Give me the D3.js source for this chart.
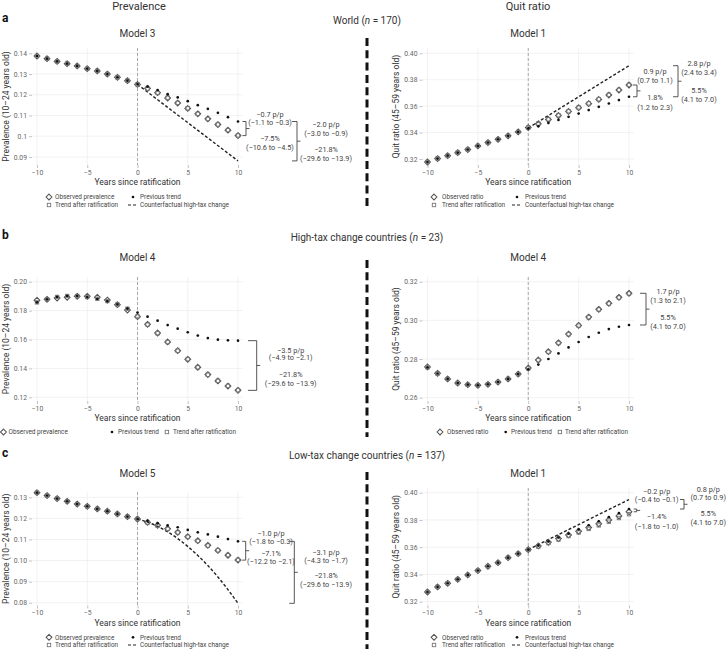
<!DOCTYPE html>
<html><head><meta charset="utf-8">
<script src="https://cdn.jsdelivr.net/npm/d3@7"></script>
<style>body{margin:0;background:#fff}svg{display:block}text{font-family:Roboto,"Noto Sans",sans-serif}</style>
</head><body><svg id="c" width="727" height="649"></svg>
<script>
// ---------- DATA ----------
const years = [-10,-9,-8,-7,-6,-5,-4,-3,-2,-1,0,1,2,3,4,5,6,7,8,9,10];
const xTicks = [-10,-5,0,5,10];
const xTickLabels = ["−10","−5","0","5","10"];

// a: World, prevalence (Model 3)
const aPrevObs   = [0.1387,0.1374,0.1361,0.1350,0.1339,0.1326,0.1315,0.1300,0.1284,0.1268,0.1250,0.1231,0.1210,0.1184,0.1160,0.1134,0.1108,0.1084,0.1056,0.1029,0.1003];
const aPrevTrend = [0.1387,0.1374,0.1361,0.1350,0.1339,0.1326,0.1315,0.1300,0.1284,0.1268,0.1252,0.1239,0.1223,0.1203,0.1187,0.1169,0.1150,0.1132,0.1113,0.1092,0.1071];
const aPrevAfter = [0.1387,0.1374,0.1361,0.1350,0.1339,0.1326,0.1315,0.1300,0.1284,0.1268,0.1250,0.1229,0.1209,0.1186,0.1161,0.1135,0.1108,0.1083,0.1057,0.1030,0.1004];
const aPrevCfYears = [0,10];
const aPrevCf    = [0.1250,0.0881];
const aPrevTicks = [0.09,0.10,0.11,0.12,0.13,0.14];
const aPrevTickLabels = ["0.09","0.1","0.11","0.12","0.13","0.14"];

// a: World, quit ratio (Model 1)
const aQuitObs   = [0.3177,0.3203,0.3225,0.3248,0.3271,0.3299,0.3324,0.3349,0.3375,0.3405,0.3438,0.3466,0.3499,0.3529,0.3560,0.3588,0.3619,0.3651,0.3684,0.3722,0.3760];
const aQuitTrend = [0.3177,0.3203,0.3225,0.3248,0.3271,0.3299,0.3324,0.3349,0.3375,0.3405,0.3432,0.3447,0.3473,0.3496,0.3519,0.3544,0.3570,0.3595,0.3620,0.3646,0.3671];
const aQuitAfter = [0.3177,0.3203,0.3225,0.3248,0.3271,0.3299,0.3324,0.3349,0.3375,0.3405,0.3436,0.3468,0.3500,0.3531,0.3561,0.3590,0.3621,0.3652,0.3686,0.3723,0.3761];
const aQuitCfYears = [0,10];
const aQuitCf    = [0.3435,0.3906];
const aQuitTicks = [0.32,0.34,0.36,0.38,0.40];
const aQuitTickLabels = ["0.32","0.34","0.36","0.38","0.40"];

// b: High-tax change, prevalence (Model 4)
const bPrevObs   = [0.1871,0.1878,0.1887,0.1892,0.1899,0.1899,0.1892,0.1873,0.1841,0.1804,0.1758,0.1705,0.1645,0.1583,0.1523,0.1463,0.1408,0.1357,0.1313,0.1278,0.1248];
const bPrevTrend = [0.1857,0.1878,0.1894,0.1901,0.1901,0.1894,0.1882,0.1866,0.1843,0.1813,0.1786,0.1758,0.1730,0.1700,0.1675,0.1650,0.1627,0.1610,0.1599,0.1594,0.1592];
const bPrevAfter = [0.1857,0.1878,0.1894,0.1901,0.1901,0.1894,0.1882,0.1866,0.1843,0.1813,0.1760,0.1703,0.1643,0.1582,0.1522,0.1464,0.1407,0.1356,0.1314,0.1279,0.1250];
const bPrevTicks = [0.12,0.14,0.16,0.18,0.20];
const bPrevTickLabels = ["0.12","0.14","0.16","0.18","0.20"];

// b: High-tax change, quit ratio (Model 4)
const bQuitObs   = [0.2759,0.2726,0.2697,0.2676,0.2667,0.2664,0.2669,0.2681,0.2697,0.2722,0.2753,0.2795,0.2838,0.2884,0.2929,0.2974,0.3017,0.3057,0.3088,0.3119,0.3140];
const bQuitTrend = [0.2757,0.2725,0.2697,0.2676,0.2667,0.2664,0.2669,0.2681,0.2697,0.2722,0.2747,0.2771,0.2800,0.2829,0.2860,0.2888,0.2914,0.2936,0.2955,0.2967,0.2976];
const bQuitAfter = [0.2757,0.2725,0.2697,0.2676,0.2667,0.2664,0.2669,0.2681,0.2697,0.2722,0.2752,0.2794,0.2837,0.2883,0.2928,0.2973,0.3016,0.3056,0.3087,0.3118,0.3139];
const bQuitTicks = [0.26,0.28,0.30,0.32];
const bQuitTickLabels = ["0.26","0.28","0.30","0.32"];

// c: Low-tax change, prevalence (Model 5)
const cPrevObs   = [0.1322,0.1308,0.1294,0.1281,0.1268,0.1257,0.1245,0.1234,0.1221,0.1208,0.1197,0.1181,0.1167,0.1151,0.1134,0.1113,0.1094,0.1072,0.1048,0.1025,0.1002];
const cPrevTrend = [0.1322,0.1308,0.1294,0.1281,0.1268,0.1257,0.1245,0.1234,0.1221,0.1208,0.1197,0.1188,0.1177,0.1167,0.1158,0.1145,0.1134,0.1124,0.1113,0.1102,0.1091];
const cPrevAfter = [0.1322,0.1308,0.1294,0.1281,0.1268,0.1257,0.1245,0.1234,0.1221,0.1208,0.1197,0.1180,0.1165,0.1150,0.1133,0.1113,0.1093,0.1071,0.1049,0.1026,0.1003];
const cPrevCfYears = [0,1,2,3,4,5,6,7,8,9,10];
const cPrevCf    = [0.1197,0.1182,0.1162,0.1136,0.1104,0.1067,0.1024,0.0976,0.0922,0.0862,0.0797];
const cPrevTicks = [0.08,0.09,0.10,0.11,0.12,0.13];
const cPrevTickLabels = ["0.08","0.09","0.10","0.11","0.12","0.13"];

// c: Low-tax change, quit ratio (Model 1)
const cQuitObs   = [0.3271,0.3308,0.3335,0.3364,0.3396,0.3428,0.3460,0.3486,0.3523,0.3552,0.3582,0.3609,0.3636,0.3663,0.3690,0.3717,0.3745,0.3772,0.3800,0.3829,0.3860];
const cQuitTrend = [0.3271,0.3308,0.3335,0.3364,0.3396,0.3428,0.3460,0.3486,0.3523,0.3552,0.3582,0.3612,0.3641,0.3671,0.3700,0.3730,0.3761,0.3790,0.3820,0.3850,0.3880];
const cQuitAfter = [0.3271,0.3308,0.3335,0.3364,0.3396,0.3428,0.3460,0.3486,0.3523,0.3552,0.3580,0.3604,0.3630,0.3656,0.3682,0.3708,0.3734,0.3760,0.3787,0.3814,0.3842];
const cQuitCfYears = [0,10];
const cQuitCf    = [0.3582,0.3950];
const cQuitTicks = [0.32,0.34,0.36,0.38,0.40];
const cQuitTickLabels = ["0.32","0.34","0.36","0.38","0.40"];

// annotation texts
const aPrevAnn1 = ["−0.7 p/p","(−1.1 to −0.3)","−7.5%","(−10.6 to −4.5)"];
const aPrevAnn2 = ["−2.0 p/p","(−3.0 to −0.9)","−21.8%","(−29.6 to −13.9)"];
const aQuitAnn1 = ["0.9 p/p","(0.7 to 1.1)","1.8%","(1.2 to 2.3)"];
const aQuitAnn2 = ["2.8 p/p","(2.4 to 3.4)","5.5%","(4.1 to 7.0)"];
const bPrevAnn1 = ["−3.5 p/p","(−4.9 to −2.1)","−21.8%","(−29.6 to −13.9)"];
const bQuitAnn1 = ["1.7 p/p","(1.3 to 2.1)","5.5%","(4.1 to 7.0)"];
const cPrevAnn1 = ["−1.0 p/p","(−1.8 to −0.3)","−7.1%","(−12.2 to −2.1)"];
const cPrevAnn2 = ["−3.1 p/p","(−4.3 to −1.7)","−21.8%","(−29.6 to −13.9)"];
const cQuitAnn1 = ["−0.2 p/p","(−0.4 to −0.1)","−1.4%","(−1.8 to −1.0)"];
const cQuitAnn2 = ["0.8 p/p","(0.7 to 0.9)","5.5%","(4.1 to 7.0)"];

const prevLabel = "Prevalence (10–24 years old)";
const quitLabel = "Quit ratio (45–59 years old)";
const xLabel = "Years since ratification";

// ---------- DRAW ----------
const svg = d3.select("#c");
const INK = "#333", GREY = "#666";

function txt(x, y, s, opt = {}) {
  return svg.append("text").attr("x", x).attr("y", y).attr("dy", "0.35em")
    .attr("text-anchor", opt.anchor || "middle")
    .attr("font-size", opt.size || 8).attr("fill", opt.fill || INK)
    .attr("font-weight", opt.weight || 400).text(s);
}
function sym(g, type, cx, cy) {
  if (type === "obs") g.append("path").attr("d", `M${cx},${cy-2.9}L${cx+2.9},${cy}L${cx},${cy+2.9}L${cx-2.9},${cy}Z`).attr("fill", "none").attr("stroke", "#555").attr("stroke-width", 1.05);
  else if (type === "after") g.append("rect").attr("x", cx-1.7).attr("y", cy-1.7).attr("width", 3.4).attr("height", 3.4).attr("fill", "none").attr("stroke", "#777").attr("stroke-width", 0.9);
  else if (type === "prev") g.append("circle").attr("cx", cx).attr("cy", cy).attr("r", 1.35).attr("fill", "#111");
  else if (type === "cf") g.append("line").attr("x1", cx-4).attr("x2", cx+4).attr("y1", cy).attr("y2", cy).attr("stroke", "#222").attr("stroke-width", 1.1).attr("stroke-dasharray", "3,2");
}

function panel(c) {
  const x = d3.scaleLinear().domain([-10, 10]).range([c.x0, c.x1]);
  const y = d3.scaleLinear().domain(c.yDom).range([c.yBot, c.yTop]);
  const L = c.x0 - 5, R = c.x1 + 5;
  const g = svg.append("g");
  // grid
  g.selectAll(null).data(c.yTicks).join("line")
    .attr("x1", L).attr("x2", R).attr("y1", d => y(d)).attr("y2", d => y(d))
    .attr("stroke", "#ededed").attr("stroke-width", 0.7);
  g.selectAll(null).data(xTicks).join("line")
    .attr("x1", d => x(d)).attr("x2", d => x(d)).attr("y1", c.yTop).attr("y2", c.yBot)
    .attr("stroke", "#ededed").attr("stroke-width", 0.7);
  // axes
  const ya = g.append("g").attr("transform", `translate(${L},0)`)
    .call(d3.axisLeft(y).tickValues(c.yTicks).tickFormat((d, i) => c.yTickLabels[i]).tickSize(3).tickPadding(2));
  const xa = g.append("g").attr("transform", `translate(0,${c.yBot})`)
    .call(d3.axisBottom(x).tickValues(xTicks).tickFormat((d, i) => xTickLabels[i]).tickSize(3).tickPadding(2));
  [ya, xa].forEach(a => {
    a.select(".domain").remove();
    a.selectAll(".tick line").attr("stroke", "#999").attr("stroke-width", 0.6);
    a.selectAll("text").attr("font-size", 6.8).attr("fill", GREY).attr("font-family", "Roboto");
  });
  // ratification line
  g.append("line").attr("x1", x(0)).attr("x2", x(0)).attr("y1", c.yTop).attr("y2", c.yBot)
    .attr("stroke", "#888").attr("stroke-width", 0.7).attr("stroke-dasharray", "3,2");
  // counterfactual
  if (c.cfY) {
    const pts = c.cfX.map((d, i) => [d, c.cfY[i]]);
    g.append("path").attr("d", d3.line().x(d => x(d[0])).y(d => y(d[1])).curve(d3.curveMonotoneX)(pts))
      .attr("fill", "none").attr("stroke", "#222").attr("stroke-width", 1.4).attr("stroke-dasharray", "3,2");
  }
  // markers
  years.forEach((yr, i) => {
    sym(g, "obs", x(yr), y(c.obs[i]));
    sym(g, "after", x(yr), y(c.after[i]));
    sym(g, "prev", x(yr), y(c.trend[i]));
  });
  // titles
  txt((c.x0 + c.x1) / 2, c.titleY, c.title, { size: 10 });
  txt((c.x0 + c.x1) / 2, c.yBot + 17.5, xLabel, { size: 8.5 });
  svg.append("text").attr("transform", `translate(${L - 26},${(c.yTop + c.yBot) / 2}) rotate(-90)`)
    .attr("dy", "0.35em").attr("text-anchor", "middle").attr("font-size", 8.5).attr("fill", INK).text(c.yLabel);
  // brackets
  const last = years.length - 1;
  const val = k => k === "cf" ? c.cfY[c.cfY.length - 1] : c[k][last];
  c.ann.forEach(a => {
    const y1 = y(val(a.from)), y2 = y(val(a.to));
    const vx = x(10) + a.dx, mid = (y1 + y2) / 2, top = Math.min(y1, y2);
    g.append("path").attr("d", `M${vx - a.tl},${y1}H${vx}V${y2}H${vx - a.tl}M${vx},${mid}H${vx + 3.5}`)
      .attr("fill", "none").attr("stroke", "#444").attr("stroke-width", 0.9);
    a.text.forEach((s, i) => txt(x(10) + a.tdx, top + a.off[i], s, { size: 7.3, fill: "#444" }));
  });
  // legend (items on one row never overlap: shift right if previous label is too long)
  const rowEnd = {};
  c.legend.forEach(it => {
    let sx = it.sx, tx = it.tx;
    const prevEnd = rowEnd[it.y];
    if (prevEnd !== undefined && sx - 4 < prevEnd + 4) { const s = prevEnd + 8 - sx; sx += s; tx += s; }
    sym(svg, it.type, sx, it.y);
    const t = txt(tx, it.y, it.label, { anchor: "start", size: 6.4, fill: "#444" });
    rowEnd[it.y] = tx + t.node().getComputedTextLength();
  });
}

function legend2(sx1, tx1, sx2, tx2, y1, y2, obsLabel) {
  return [
    { type: "obs", sx: sx1, tx: tx1, y: y1, label: obsLabel },
    { type: "prev", sx: sx2, tx: tx2, y: y1, label: "Previous trend" },
    { type: "after", sx: sx1, tx: tx1, y: y2, label: "Trend after ratification" },
    { type: "cf", sx: sx2 - 1, tx: tx2, y: y2, label: "Counterfactual high-tax change" }
  ];
}

// headers
txt(139, 6, "Prevalence", { size: 11 });
txt(528, 6, "Quit ratio", { size: 11 });
txt(2, 18, "a", { anchor: "start", size: 12, weight: 700, fill: "#111" });
txt(2, 235, "b", { anchor: "start", size: 12, weight: 700, fill: "#111" });
txt(2, 453, "c", { anchor: "start", size: 12, weight: 700, fill: "#111" });
function sectionTitle(yy, pre, post) {
  const t = svg.append("text").attr("x", 367).attr("y", yy).attr("dy", "0.35em").attr("text-anchor", "middle")
    .attr("font-size", 10).attr("fill", INK);
  t.append("tspan").text(pre);
  t.append("tspan").attr("font-style", "italic").text("n");
  t.append("tspan").text(post);
}
sectionTitle(20, "World (", " = 170)");
sectionTitle(237, "High-tax change countries (", " = 23)");
sectionTitle(455, "Low-tax change countries (", " = 137)");

// divider
[[38, 210], [260, 437], [472, 649]].forEach(s =>
  svg.append("line").attr("x1", 367).attr("x2", 367).attr("y1", s[0]).attr("y2", s[1])
    .attr("stroke", "#111").attr("stroke-width", 3).attr("stroke-dasharray", "8,4.3"));

panel({ x0: 37, x1: 238, yTop: 48, yBot: 165, yDom: [0.08612, 0.14256], titleY: 33, title: "Model 3",
  yLabel: prevLabel, yTicks: aPrevTicks, yTickLabels: aPrevTickLabels,
  obs: aPrevObs, trend: aPrevTrend, after: aPrevAfter, cfX: aPrevCfYears, cfY: aPrevCf,
  ann: [{ from: "trend", to: "obs", dx: 8, tl: 3.5, tdx: 32, off: [-7.4, 0.6, 16.6, 25.6], text: aPrevAnn1 },
        { from: "trend", to: "cf", dx: 59, tl: 5, tdx: 88, off: [2.6, 11.6, 27.6, 36.6], text: aPrevAnn2 }],
  legend: legend2(49, 55, 133, 140, 197, 205, "Observed prevalence") });

panel({ x0: 427.5, x1: 629, yTop: 48, yBot: 165, yDom: [0.31544, 0.40401], titleY: 33, title: "Model 1",
  yLabel: quitLabel, yTicks: aQuitTicks, yTickLabels: aQuitTickLabels,
  obs: aQuitObs, trend: aQuitTrend, after: aQuitAfter, cfX: aQuitCfYears, cfY: aQuitCf,
  ann: [{ from: "obs", to: "trend", dx: 8, tl: 4, tdx: 26, off: [-14, -5, 12, 22], text: aQuitAnn1 },
        { from: "cf", to: "trend", dx: 49, tl: 5, tdx: 70, off: [-2.7, 6.3, 24.3, 33.3], text: aQuitAnn2 }],
  legend: legend2(434, 442, 517, 525, 197, 205, "Observed ratio") });

panel({ x0: 37, x1: 238, yTop: 277, yBot: 401, yDom: [0.11744, 0.20325], titleY: 257, title: "Model 4",
  yLabel: prevLabel, yTicks: bPrevTicks, yTickLabels: bPrevTickLabels,
  obs: bPrevObs, trend: bPrevTrend, after: bPrevAfter,
  ann: [{ from: "trend", to: "obs", dx: 18.7, tl: 8.7, tdx: 52.7, off: [9.3, 17, 33.6, 43], text: bPrevAnn1 }],
  legend: [{ type: "obs", sx: 3.5, tx: 8.5, y: 432, label: "Observed prevalence" },
           { type: "prev", sx: 112, tx: 118, y: 432, label: "Previous trend" },
           { type: "after", sx: 162, tx: 168, y: 432, label: "Trend after ratification" }] });

panel({ x0: 427.5, x1: 629, yTop: 277, yBot: 401, yDom: [0.25828, 0.32243], titleY: 257, title: "Model 4",
  yLabel: quitLabel, yTicks: bQuitTicks, yTickLabels: bQuitTickLabels,
  obs: bQuitObs, trend: bQuitTrend, after: bQuitAfter,
  ann: [{ from: "obs", to: "trend", dx: 17, tl: 6, tdx: 39, off: [-2.3, 6.7, 23.7, 32.7], text: bQuitAnn1 }],
  legend: [{ type: "obs", sx: 440, tx: 447, y: 432, label: "Observed ratio" },
           { type: "prev", sx: 505.7, tx: 511, y: 432, label: "Previous trend" },
           { type: "after", sx: 548, tx: 553, y: 432, label: "Trend after ratification" }] });

panel({ x0: 37, x1: 238, yTop: 492, yBot: 605.5, yDom: [0.07867, 0.13251], titleY: 473, title: "Model 5",
  yLabel: prevLabel, yTicks: cPrevTicks, yTickLabels: cPrevTickLabels,
  obs: cPrevObs, trend: cPrevTrend, after: cPrevAfter, cfX: cPrevCfYears, cfY: cPrevCf,
  ann: [{ from: "trend", to: "obs", dx: 7.7, tl: 3.5, tdx: 33, off: [-8, 0.5, 12, 20.5], text: cPrevAnn1 },
        { from: "trend", to: "cf", dx: 56.3, tl: 5, tdx: 88, off: [11, 19.5, 34.4, 43], text: cPrevAnn2 }],
  legend: legend2(49, 55, 133, 140, 637.3, 645, "Observed prevalence") });

panel({ x0: 427.5, x1: 629, yTop: 488, yBot: 605.5, yDom: [0.31718, 0.40345], titleY: 473, title: "Model 1",
  yLabel: quitLabel, yTicks: cQuitTicks, yTickLabels: cQuitTickLabels,
  obs: cQuitObs, trend: cQuitTrend, after: cQuitAfter, cfX: cQuitCfYears, cfY: cQuitCf,
  ann: [{ from: "trend", to: "obs", dx: 7.7, tl: 3, tdx: 27.7, off: [-18, -9.5, 7.7, 17], text: cQuitAnn1 },
        { from: "cf", to: "trend", dx: 55, tl: 4, tdx: 79.3, off: [-10.2, -1.7, 14.1, 23.1], text: cQuitAnn2 }],
  legend: legend2(434, 442, 517, 525, 637.3, 645, "Observed ratio") });
</script></body></html>
